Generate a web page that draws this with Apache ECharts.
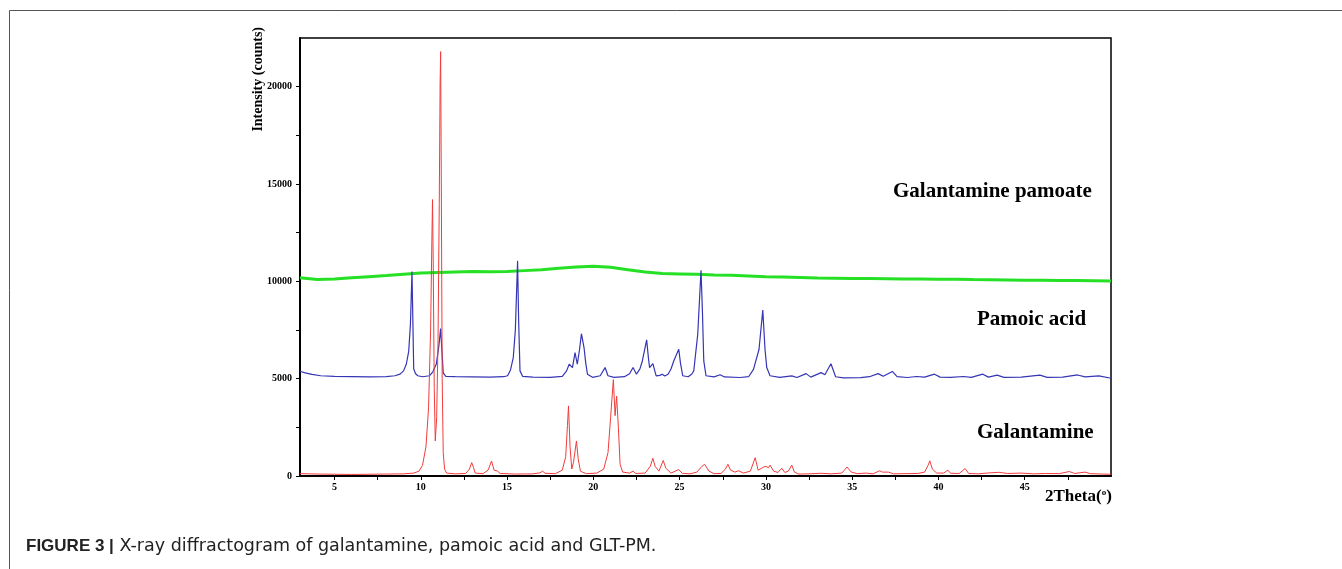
<!DOCTYPE html>
<html>
<head>
<meta charset="utf-8">
<script src="https://cdn.jsdelivr.net/npm/echarts@6/dist/echarts.min.js"></script>
<style>
  html, body { margin: 0; padding: 0; background: #fff; }
  #chart { width: 1342px; height: 569px; }
</style>
</head>
<body>
<div id="chart"></div>
<script>
// 2Theta (deg) vs intensity (counts)
var galantamine = [
  [3, 120], [4, 100], [5, 90], [6, 80], [7, 90], [8, 100], [9, 110], [9.6, 150], [9.9, 250],
  [10.1, 550], [10.3, 1500], [10.45, 3500], [10.57, 7500], [10.64, 12000], [10.68, 14200],
  [10.72, 11000], [10.78, 4500], [10.84, 1800], [10.92, 3000], [11.0, 7000], [11.07, 14000],
  [11.12, 20200], [11.15, 21800], [11.19, 15000], [11.24, 5000], [11.3, 1200], [11.38, 350],
  [11.5, 150], [12.0, 110], [12.6, 130], [12.82, 350], [12.95, 690], [13.05, 450], [13.15, 150],
  [13.6, 120], [13.9, 300], [14.1, 770], [14.25, 300], [14.45, 250], [14.6, 130], [15.5, 100],
  [16.5, 110], [16.9, 160], [17.06, 250], [17.2, 140], [17.8, 120], [18.2, 300], [18.4, 1000],
  [18.5, 2600], [18.56, 3600], [18.65, 1500], [18.75, 360], [18.85, 700], [19.02, 1800],
  [19.12, 900], [19.25, 250], [19.37, 200], [19.6, 120], [20.2, 150], [20.6, 350], [20.85, 1200],
  [21.0, 3000], [21.16, 4950], [21.26, 3100], [21.35, 4100], [21.45, 2500], [21.55, 600],
  [21.7, 200], [22.1, 150], [22.3, 250], [22.45, 130], [23.0, 150], [23.3, 500], [23.45, 910],
  [23.58, 500], [23.8, 250], [24.05, 800], [24.2, 400], [24.5, 150], [24.95, 330], [25.15, 140],
  [25.6, 110], [26.0, 200], [26.3, 500], [26.45, 600], [26.7, 250], [27.0, 120], [27.4, 130],
  [27.65, 350], [27.8, 600], [27.95, 300], [28.2, 200], [28.42, 270], [28.7, 150], [29.1, 250],
  [29.38, 940], [29.55, 300], [29.63, 200], [29.85, 450], [30.0, 500], [30.15, 420], [30.24, 560],
  [30.45, 250], [30.7, 180], [30.92, 400], [31.1, 180], [31.3, 250], [31.5, 560], [31.65, 200],
  [31.9, 100], [32.5, 110], [33.2, 140], [33.8, 110], [34.4, 150], [34.7, 460], [34.95, 200],
  [35.3, 120], [35.8, 150], [36.2, 110], [36.6, 270], [36.75, 200], [37.1, 200], [37.4, 110],
  [38, 120], [38.8, 130], [39.2, 200], [39.4, 550], [39.5, 780], [39.65, 350], [39.9, 150],
  [40.3, 150], [40.55, 300], [40.7, 140], [41.2, 130], [41.55, 380], [41.75, 130], [42.3, 110],
  [42.8, 150], [43.5, 190], [44, 130], [44.8, 150], [45.5, 110], [46.2, 130], [47.0, 120],
  [47.58, 230], [47.9, 130], [48.5, 200], [48.8, 120], [49.5, 100], [50, 90]
];

var pamoicAcid = [
  [3, 5380], [3.3, 5300], [3.7, 5220], [4.2, 5150], [5, 5120], [6, 5110], [7, 5090], [8, 5100],
  [8.5, 5150], [8.8, 5230], [9.0, 5400], [9.16, 5740], [9.3, 6400], [9.4, 7800], [9.49, 10500],
  [9.54, 8000], [9.59, 5500], [9.7, 5250], [9.83, 5150], [10.1, 5100], [10.5, 5150], [10.7, 5350],
  [10.9, 5750], [11.05, 6700], [11.15, 7570], [11.22, 6500], [11.3, 5300], [11.45, 5120],
  [12, 5100], [13, 5090], [14, 5080], [14.8, 5100], [15.03, 5150], [15.2, 5450], [15.36, 6080],
  [15.48, 7500], [15.61, 11050], [15.67, 8000], [15.75, 5400], [15.9, 5120], [16.5, 5080],
  [17.5, 5070], [18.2, 5120], [18.45, 5400], [18.6, 5740], [18.7, 5770], [18.79, 5570],
  [18.94, 6340], [19.07, 5740], [19.2, 6500], [19.31, 7310], [19.46, 6600], [19.56, 5800],
  [19.66, 5230], [19.95, 5070], [20.4, 5150], [20.68, 5570], [20.85, 5150], [21.2, 5070],
  [21.8, 5100], [22.1, 5250], [22.3, 5570], [22.5, 5230], [22.7, 5500], [22.84, 5910],
  [23.09, 6990], [23.2, 6000], [23.26, 5570], [23.45, 5770], [23.64, 5140], [23.85, 5170],
  [23.99, 5230], [24.14, 5140], [24.33, 5230], [24.5, 5500], [24.66, 5910], [24.95, 6510],
  [25.05, 5800], [25.18, 5150], [25.5, 5100], [25.72, 5250], [25.82, 5400], [26.05, 7280],
  [26.24, 10570], [26.32, 8500], [26.4, 5910], [26.53, 5150], [27.0, 5090], [27.35, 5200],
  [27.6, 5090], [28.5, 5060], [29.0, 5100], [29.28, 5480], [29.38, 5500], [29.6, 6500],
  [29.82, 8520], [29.95, 6500], [30.05, 5570], [30.24, 5150], [30.8, 5070], [31.5, 5140],
  [31.8, 5060], [32.33, 5260], [32.6, 5080], [33.2, 5310], [33.42, 5200], [33.77, 5770],
  [34.04, 5100], [34.5, 5040], [35.5, 5050], [36.0, 5100], [36.5, 5260], [36.8, 5120],
  [37.33, 5370], [37.6, 5100], [38.2, 5060], [38.72, 5110], [39.2, 5080], [39.77, 5230],
  [40.1, 5080], [40.7, 5070], [41.45, 5110], [41.9, 5070], [42.57, 5230], [42.9, 5080],
  [43.4, 5180], [43.8, 5070], [44.8, 5080], [45.88, 5180], [46.3, 5070], [47.2, 5080],
  [48.06, 5190], [48.5, 5090], [49.3, 5140], [50, 5020]
];

var galantaminePamoate = [
  [3, 10180], [4, 10100], [5, 10120], [6, 10180], [7, 10240], [8, 10300], [9, 10370], [10, 10430],
  [11, 10460], [12, 10480], [13, 10500], [14, 10490], [15, 10500], [16, 10550], [17, 10600],
  [18, 10670], [19, 10740], [20, 10770], [21, 10720], [22, 10600], [23, 10480], [24, 10400],
  [25, 10380], [26, 10360], [27, 10330], [28, 10310], [29, 10280], [30, 10240], [31, 10220],
  [32, 10200], [33, 10170], [34, 10160], [35, 10150], [36, 10140], [37, 10130], [38, 10120],
  [39, 10120], [40, 10110], [41, 10110], [42, 10090], [43, 10080], [44, 10070], [45, 10060],
  [46, 10050], [47, 10040], [48, 10040], [49, 10030], [50, 10020]
];

var xLabels = [5, 10, 15, 20, 25, 30, 35, 40, 45];
var xTicks = [5, 7.5, 10, 12.5, 15, 17.5, 20, 22.5, 25, 27.5, 30, 32.5, 35, 37.5, 40, 42.5, 45, 47.5];
var yLabels = [0, 5000, 10000, 15000, 20000];
var yTicks = [0, 2500, 5000, 7500, 10000, 12500, 15000, 17500, 20000];

var serif = '"Liberation Serif", "DejaVu Serif", serif';

var chart = echarts.init(document.getElementById("chart"));
var option = {
  animation: false,
  backgroundColor: "#fff",
  grid: {
    left: 300,
    top: 38,
    right: 231,
    bottom: 93,
    show: true,
    borderColor: "#000",
    borderWidth: 1.5,
  },
  xAxis: {
    type: "value",
    min: 3,
    max: 50,
    axisLine: { show: true, lineStyle: { color: "#000", width: 2 } },
    axisTick: { show: true, length: 4, customValues: xTicks, lineStyle: { color: "#000", width: 1 } },
    axisLabel: {
      customValues: xLabels,
      color: "#000",
      fontFamily: serif,
      fontWeight: "bold",
      fontSize: 10,
      margin: 6,
    },
    splitLine: { show: false },
  },
  yAxis: {
    type: "value",
    min: 0,
    max: 22500,
    axisLine: { show: true, lineStyle: { color: "#000", width: 2 } },
    axisTick: { show: true, length: 4, customValues: yTicks, lineStyle: { color: "#000", width: 1 } },
    axisLabel: {
      customValues: yLabels,
      formatter: function(v) {
        return String(v);
      },
      color: "#000",
      fontFamily: serif,
      fontWeight: "bold",
      fontSize: 10,
      margin: 8,
    },
    splitLine: { show: false },
  },
  series: [
    {
      name: "Galantamine pamoate",
      type: "line",
      data: galantaminePamoate,
      showSymbol: false,
      lineStyle: { color: "#25e025", width: 3 },
      z: 2,
    },
    {
      name: "Pamoic acid",
      type: "line",
      data: pamoicAcid,
      showSymbol: false,
      lineStyle: { color: "#3535b5", width: 1.2 },
      z: 3,
    },
    {
      name: "Galantamine",
      type: "line",
      data: galantamine,
      showSymbol: false,
      lineStyle: { color: "#f03c3c", width: 1 },
      z: 4,
    },
  ],
  graphic: [
    {
      type: "rect",
      shape: { x: 9.5, y: 10.5, width: 1400, height: 620 },
      style: { fill: null, stroke: "#555", lineWidth: 1 },
      silent: true,
    },
    {
      type: "text",
      x: 258,
      y: 27,
      rotation: Math.PI / 2,
      style: {
        text: "Intensity (counts)",
        font: "bold 14px " + serif,
        fill: "#000",
        align: "right",
        verticalAlign: "middle",
      },
    },
    {
      type: "text",
      left: 893,
      top: 181,
      style: { text: "Galantamine pamoate", font: "bold 21px " + serif, fill: "#000" },
    },
    {
      type: "text",
      left: 977,
      top: 309,
      style: { text: "Pamoic acid", font: "bold 21px " + serif, fill: "#000" },
    },
    {
      type: "text",
      left: 977,
      top: 422,
      style: { text: "Galantamine", font: "bold 21px " + serif, fill: "#000" },
    },
    {
      type: "text",
      left: 1045,
      top: 488,
      style: {
        text: "2Theta({sup|o})",
        font: "bold 17px " + serif,
        fill: "#000",
        rich: {
          sup: { fontFamily: serif, fontWeight: "bold", fontSize: 9, verticalAlign: "top", padding: [0, 0, 8, 0] },
        },
      },
    },
    {
      type: "text",
      left: 26,
      top: 537,
      style: {
        text: "{b|FIGURE 3 |} X-ray diffractogram of galantamine, pamoic acid and GLT-PM.",
        font: '17.5px "DejaVu Sans", sans-serif',
        fill: "#222",
        rich: {
          b: { fontFamily: '"Liberation Sans", Arial, sans-serif', fontWeight: "bold", fontSize: 17, fill: "#222" },
        },
      },
    },
  ],
};

chart.setOption(option);

window.addEventListener("resize", function() {
  chart.resize();
});
</script>
</body>
</html>
